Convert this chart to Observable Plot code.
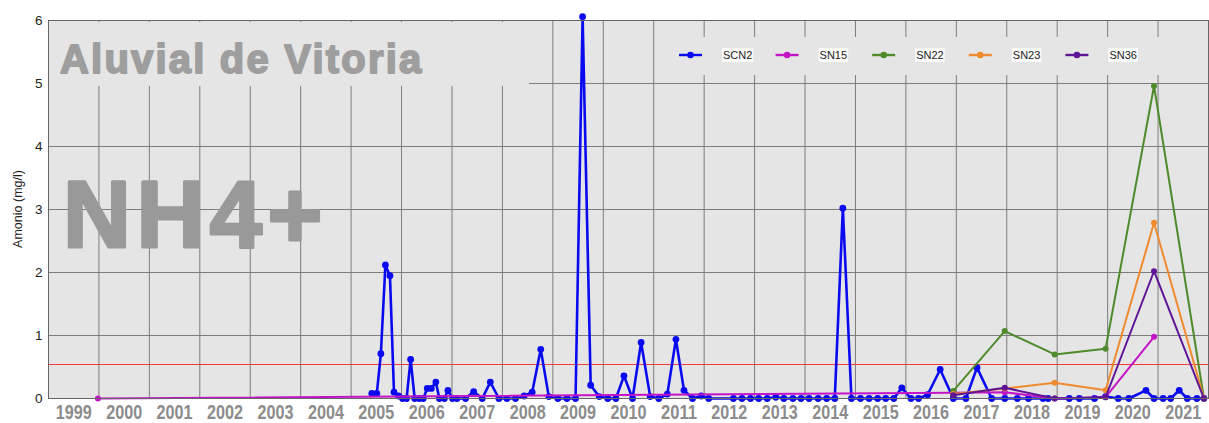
<!DOCTYPE html>
<html><head><meta charset="utf-8">
<script src="https://cdn.jsdelivr.net/npm/d3@7"></script>
<script src="https://cdn.jsdelivr.net/npm/@observablehq/plot@0.6"></script>
<style>
body{margin:0;background:#fff;}
#chart{width:1209px;height:423px;}
</style></head><body><div id="chart"></div>
<script>
// ---- data (decimal years, mg/l) ----
const xTickYears = d3.range(1999, 2022);          // labels 1999..2021
const gridYears = d3.range(2000, 2022);           // vertical grid lines
const yTicks = [0, 1, 2, 3, 4, 5, 6];
const gridValues = [1, 2, 3, 4, 5];
const limitValue = 0.54;

const scn2Dates = [2005.41,2005.51,2005.59,2005.68,2005.77,2005.85,2005.94,2006.02,2006.10,2006.18,2006.26,2006.35,2006.43,2006.51,2006.59,2006.68,2006.75,2006.85,2006.92,2007.01,2007.10,2007.27,2007.43,2007.60,2007.76,2007.93,2008.09,2008.26,2008.43,2008.59,2008.76,2008.92,2009.10,2009.28,2009.45,2009.59,2009.75,2009.92,2010.09,2010.25,2010.41,2010.58,2010.75,2010.93,2011.10,2011.27,2011.44,2011.60,2011.77,2011.94,2012.09,2012.58,2012.75,2012.92,2013.08,2013.25,2013.42,2013.58,2013.76,2013.92,2014.08,2014.26,2014.43,2014.59,2014.75,2014.92,2015.10,2015.27,2015.44,2015.60,2015.76,2015.92,2016.10,2016.25,2016.43,2016.68,2016.94,2017.19,2017.41,2017.70,2017.96,2018.21,2018.43,2018.72,2018.82,2019.24,2019.44,2019.74,2019.96,2020.21,2020.42,2020.76,2020.92,2021.10,2021.25,2021.42,2021.58,2021.77,2021.91];
const scn2Values = [0.08,0.08,0.71,2.12,1.95,0.10,0.04,0,0,0.62,0,0,0,0.16,0.16,0.26,0,0,0.13,0,0,0,0.11,0,0.26,0,0,0,0.04,0.10,0.78,0.03,0,0,0,6.06,0.21,0.03,0,0,0.36,0,0.89,0.03,0,0.07,0.94,0.13,0,0.04,0,0,0,0,0,0,0.02,0,0,0,0,0,0,0,3.02,0,0,0,0,0,0,0.17,0,0,0.06,0.46,0,0,0.49,0,0,0,0,0,0,0,0,0,0.03,0,0,0.13,0,0,0,0.13,0,0,0];

const sn15Dates = [1999.98, 2016.94, 2017.96, 2018.95, 2019.96, 2020.92];
const sn15Values = [0, 0.09, 0.10, 0, 0.02, 0.98];

const sn22Dates = [2016.94, 2017.96, 2018.95, 2019.96, 2020.92, 2021.91];
const sn22Values = [0.12, 1.07, 0.70, 0.79, 4.96, 0];

const sn23Dates = [2016.94, 2017.96, 2018.95, 2019.96, 2020.92, 2021.91];
const sn23Values = [0.07, 0.16, 0.25, 0.13, 2.79, 0];

const sn36Dates = [2016.94, 2017.96, 2018.95, 2019.96, 2020.92, 2021.91];
const sn36Values = [0.05, 0.17, 0, 0.02, 2.02, 0];

const seriesNames = ["SCN2", "SN15", "SN22", "SN23", "SN36"];
const seriesColors = ["#0a0af0", "#c414c8", "#4f8a2b", "#ef8a2e", "#5e1496"];

// ---- build ----
const seriesData = [
  [scn2Dates, scn2Values], [sn15Dates, sn15Values], [sn22Dates, sn22Values],
  [sn23Dates, sn23Values], [sn36Dates, sn36Values]
].map(([ds, vs], k) => ds.map((d, i) => ({x: d, y: vs[i], s: seriesNames[k]})));

const seriesMarks = seriesData.flatMap((data, k) => [
  Plot.line(data, {x: "x", y: "y", stroke: seriesColors[k], strokeWidth: k === 0 ? 2.6 : 2, strokeLinejoin: "round"}),
  Plot.dot(data, {x: "x", y: "y", fill: seriesColors[k], r: k === 0 ? 3.4 : 3})
]);

const plot = Plot.plot({
  width: 1209, height: 423,
  marginLeft: 48, marginRight: 1, marginTop: 20, marginBottom: 25,
  style: {background: "white", fontFamily: "'Liberation Sans', Arial, sans-serif"},
  x: {domain: [1999, 2022]},
  y: {domain: [0, 6]},
  marks: [
    Plot.frame({fill: "#e5e5e5"}),
    Plot.ruleX(gridYears, {stroke: "#7c7c7c", strokeWidth: 1}),
    Plot.ruleY(gridValues, {stroke: "#7c7c7c", strokeWidth: 1}),
    Plot.ruleY([limitValue], {stroke: "#f03c3c", strokeWidth: 1.2}),
    ...seriesMarks,
    Plot.frame({stroke: "#666", strokeWidth: 1}),
    Plot.axisY({ticks: yTicks, tickFormat: d => String(d), tickSize: 0, tickPadding: 6, fontSize: 13.5, color: "#222", label: null}),
    Plot.axisX({ticks: xTickYears.map(d => d + 0.5), tickFormat: d => String(Math.floor(d)), tickSize: 0, tickPadding: 6,
      fontSize: 20, fontWeight: "bold", fill: "#8c8c8c", label: null})
  ]
});

document.getElementById("chart").appendChild(plot);

// ---- decorations ----
const svg = d3.select(plot);

// condense x tick labels (narrow look)
svg.selectAll('g[aria-label="x-axis tick label"] text')
  .attr("textLength", 36).attr("lengthAdjust", "spacingAndGlyphs");

// title box & texts
svg.append("rect").attr("x", 49).attr("y", 22).attr("width", 480).attr("height", 64).attr("fill", "#e5e5e5");
svg.append("text").text("Aluvial de Vitoria")
  .attr("x", 60).attr("y", 72.5).attr("text-anchor", "start")
  .attr("font-family", "'Liberation Sans', Arial, sans-serif").attr("font-weight", "bold")
  .attr("font-size", 40).attr("letter-spacing", 2.2)
  .attr("fill", "#9e9e9e").attr("stroke", "#9e9e9e").attr("stroke-width", 1.8).attr("stroke-linejoin", "round");
svg.append("text").text("NH4+")
  .attr("x", 63).attr("y", 247).attr("text-anchor", "start")
  .attr("font-family", "'Liberation Sans', Arial, sans-serif").attr("font-weight", "bold")
  .attr("font-size", 94).attr("letter-spacing", 5.5)
  .attr("fill", "#999999").attr("stroke", "#999999").attr("stroke-width", 3).attr("stroke-linejoin", "round");

// y label
svg.append("text").text("Amonio (mg/l)")
  .attr("transform", "translate(22,209) rotate(-90)")
  .attr("text-anchor", "middle")
  .attr("font-family", "'Liberation Sans', Arial, sans-serif")
  .attr("font-size", 12.5).attr("fill", "#222");

// legend
svg.append("rect").attr("x", 662).attr("y", 37).attr("width", 508).attr("height", 38).attr("fill", "#e5e5e5");
const lg = svg.append("g").attr("font-family", "'Liberation Sans', Arial, sans-serif").attr("font-size", 11).attr("text-anchor", "start");
seriesNames.forEach((name, i) => {
  const x0 = 679 + i * 96.6, yc = 55;
  lg.append("line").attr("x1", x0).attr("x2", x0 + 23).attr("y1", yc).attr("y2", yc)
    .attr("stroke", seriesColors[i]).attr("stroke-width", 2.4);
  lg.append("circle").attr("cx", x0 + 11.5).attr("cy", yc).attr("r", 3.3).attr("fill", seriesColors[i]);
  const t = lg.append("text").text(name).attr("x", x0 + 44).attr("y", yc + 4).attr("fill", "#222");
  const w = t.node().getComputedTextLength();
  lg.insert("rect", () => t.node()).attr("x", x0 + 43).attr("y", yc - 7).attr("width", w + 2).attr("height", 14).attr("fill", "#fafafa");
});
</script>
</body></html>
